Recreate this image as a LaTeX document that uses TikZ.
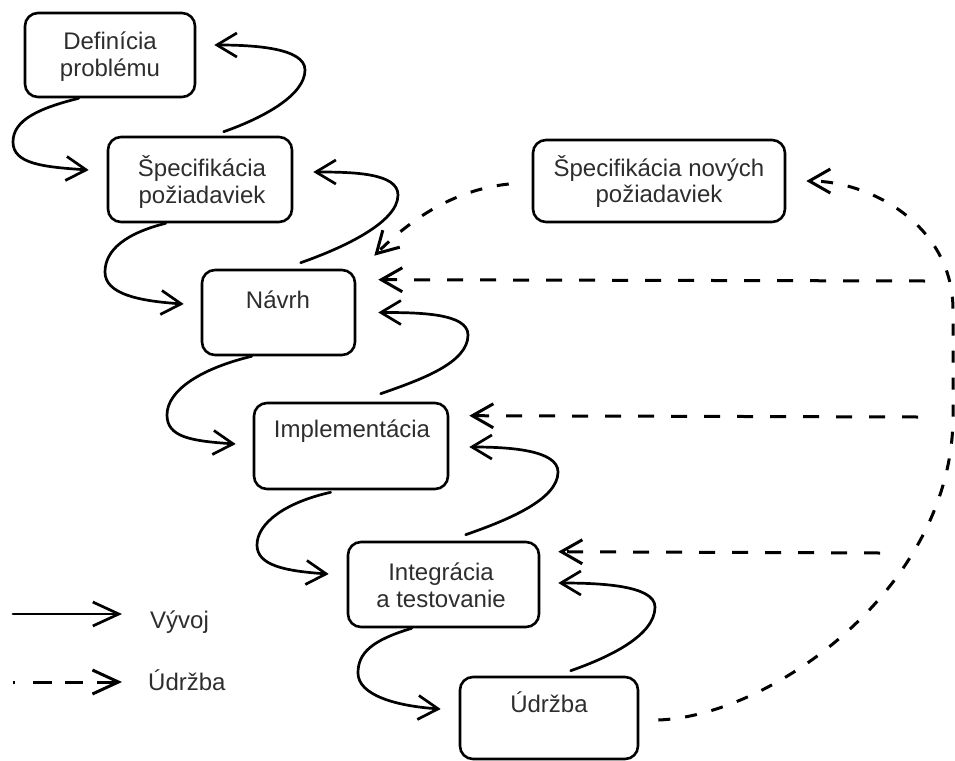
\documentclass[tikz,border=0pt]{standalone}
\usepackage{fontspec}
\setmainfont{Liberation Sans}
\usetikzlibrary{arrows.meta,calc}
\definecolor{ink}{RGB}{0,0,0}
\definecolor{txt}{RGB}{45,45,45}
\begin{document}
\begin{tikzpicture}[x=1pt,y=-1pt,
  box/.style={draw=ink, line width=2.6pt, rounded corners=13pt, inner sep=0pt},
  lbl/.style={text=txt, font=\fontsize{24}{26.5}\selectfont, align=center, inner sep=0pt},
  dev/.style={draw=ink, line width=2.7pt, line cap=round,
    -{Straight Barb[length=20pt,width=24pt]}},
  mnt/.style={draw=ink, line width=3pt, dash pattern=on 16pt off 17pt,
    -{Straight Barb[length=21pt,width=24pt]}},
  mntc/.style={mnt, dash pattern=on 12pt off 15pt},
  devleg/.style={dev, -{Straight Barb[length=26pt,width=24pt]}},
  mntleg/.style={mnt, dash pattern=on 2pt off 18pt on 19pt off 13pt on 18pt off 14pt on 40pt,
    -{Straight Barb[length=26pt,width=24pt]}},
]
\useasboundingbox (0,0) rectangle (955,760);

% phase boxes
\node[box, minimum width=170pt, minimum height=84pt] (def)    at (110,55)    {};
\node[box, minimum width=184pt, minimum height=85pt] (spec)   at (200,179.5) {};
\node[box, minimum width=153pt, minimum height=85pt] (navrh)  at (278.5,312.5) {};
\node[box, minimum width=194pt, minimum height=86pt] (impl)   at (351,446)   {};
\node[box, minimum width=191pt, minimum height=85pt] (integr) at (443.5,584.5) {};
\node[box, minimum width=178pt, minimum height=82pt] (udrzba) at (549,718)   {};
\node[box, minimum width=252pt, minimum height=82pt] (novspec) at (659,181)  {};

% box captions
\node[lbl] (deftxt)    at (110,56.5) {Definícia\\problému};
\node[lbl] (spectxt)   at (202,182)  {Špecifikácia\\požiadaviek};
\node[lbl] (novtxt)    at (659,181.5) {Špecifikácia nových\\požiadaviek};
\node[lbl, anchor=base] (navtxt)  at (278,308) {Návrh};
\node[lbl, anchor=base] (impltxt) at (352,437) {Implementácia};
\node[lbl] (integtxt)  at (441,585.5) {Integrácia\\a testovanie};
\node[lbl, anchor=base] (udrtxt)  at (549,712) {Údržba};

% development flow: down the waterfall
\draw[dev] ($(def.south west)+(55,0)$) .. controls +(-40,10) and +(0,-22) .. (13,142)
  .. controls +(0,22) and +(-45,-3) .. ($(spec.west)+(-18,-9.5)$);
\draw[dev] ($(spec.south west)+(59,0)$) .. controls +(-40,10) and +(0,-22) .. (105,272)
  .. controls +(0,22) and +(-45,-3) .. ($(navrh.west)+(-17,-8.5)$);
\draw[dev] ($(navrh.south west)+(51,0)$) .. controls +(-50,12) and +(0,-25) .. (167,415)
  .. controls +(0,22) and +(-45,-3) .. ($(impl.west)+(-17,-2)$);
\draw[dev] ($(impl.south west)+(78,2)$) .. controls +(-45,10) and +(0,-22) .. (257,545)
  .. controls +(0,20) and +(-45,-3) .. ($(integr.west)+(-18,-10.5)$);
\draw[dev] ($(integr.south west)+(65,0)$) .. controls +(-40,12) and +(0,-20) .. (358,673)
  .. controls +(0,22) and +(-45,-3) .. ($(udrzba.west)+(-18,-9)$);

% development flow: feedback to the previous phase
\draw[dev] ($(spec.north west)+(117,-4)$) .. controls +(40,-14) and +(0,25) .. (305,70)
  .. controls +(0,-22) and +(40,0) .. ($(def.east)+(18,-10)$);
\draw[dev] ($(navrh.north west)+(100,-6)$) .. controls +(40,-14) and +(0,28) .. (398,195)
  .. controls +(0,-22) and +(40,0) .. ($(spec.east)+(20,-7.5)$);
\draw[dev] ($(impl.north west)+(128,-8)$) .. controls +(40,-14) and +(0,28) .. (468,335)
  .. controls +(0,-22) and +(40,0) .. ($(navrh.east)+(22,0)$);
\draw[dev] ($(integr.north west)+(119,-6)$) .. controls +(40,-14) and +(0,28) .. (558,472)
  .. controls +(0,-22) and +(40,0) .. ($(impl.east)+(20,1)$);
\draw[dev] ($(udrzba.north west)+(112,-5)$) .. controls +(40,-14) and +(0,28) .. (655,607)
  .. controls +(0,-22) and +(40,0) .. ($(integr.east)+(18,-1.5)$);

% maintenance loop
\draw[mntc] ($(udrzba.east)+(19,2)$) .. controls (770,716) and (950,590) .. (953,420)
  -- (953,310) .. controls (953,225) and (870,181) .. ($(novspec.east)+(20,0)$);
\draw[mntc] ($(novspec.west)+(-23,3)$) .. controls +(-55,6) and +(37,-37)
  .. ($(navrh.north east)+(18,-13)$);

\coordinate (m1) at (925,281);
\coordinate (m2) at (918,417);
\coordinate (m3) at (880,553);
\draw[mnt] (m1) -- ($(navrh.north east)+(22,11)$);
\draw[mnt] (m2) -- ($(impl.north east)+(20,14)$);
\draw[mnt] (m3) -- ($(integr.north east)+(18,11)$);

% legend
\coordinate (la) at (13,614);
\coordinate (lb) at (122,614);
\coordinate (lc) at (13,682);
\coordinate (ld) at (122,682);
\draw[devleg] (la) -- (lb);
\draw[mntleg] (lc) -- (ld);
\node[lbl, anchor=base west] (vyvoj)  at (150,628) {Vývoj};
\node[lbl, anchor=base west] (udrleg) at (148,690) {Údržba};
\end{tikzpicture}
\end{document}
